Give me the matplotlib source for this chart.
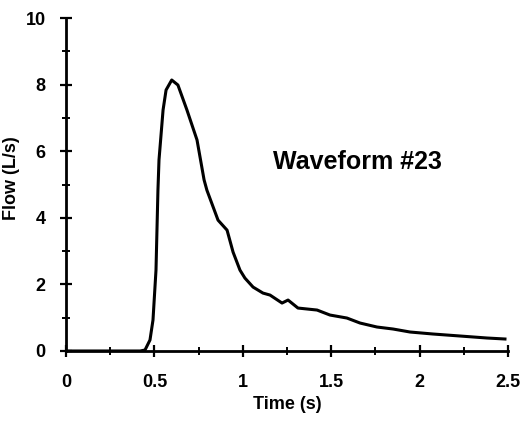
import matplotlib
matplotlib.use("Agg")
import matplotlib.pyplot as plt
from matplotlib.ticker import MultipleLocator

# flow waveform (time in s, flow in L/s)
time_s = [0.0, 0.20, 0.42, 0.447, 0.475, 0.492, 0.509, 0.520, 0.526, 0.549, 0.566,
          0.598, 0.633, 0.684, 0.741, 0.781, 0.797, 0.860, 0.911, 0.945, 0.984,
          1.012, 1.058, 1.114, 1.154, 1.222, 1.256, 1.312, 1.420, 1.493, 1.589,
          1.663, 1.759, 1.850, 1.946, 2.076, 2.229, 2.381, 2.483]
flow_ls = [0.0, 0.0, 0.0, 0.03, 0.33, 0.93, 2.43, 4.83, 5.74, 7.24, 7.84,
           8.14, 7.99, 7.24, 6.34, 5.14, 4.83, 3.93, 3.63, 2.97, 2.43,
           2.19, 1.92, 1.74, 1.68, 1.44, 1.53, 1.29, 1.23, 1.08, 0.99,
           0.84, 0.72, 0.66, 0.57, 0.51, 0.45, 0.39, 0.36]

x_ticks = [0, 0.5, 1, 1.5, 2, 2.5]
x_tick_labels = ["0", "0.5", "1", "1.5", "2", "2.5"]
y_ticks = [0, 2, 4, 6, 8, 10]

plt.rcParams["font.family"] = ["Liberation Sans", "DejaVu Sans"]
plt.rcParams["font.weight"] = "bold"

fig = plt.figure(figsize=(5.21, 4.21), dpi=100)
ax = fig.add_axes([0.1267, 0.1663, 0.975 - 0.1267, 0.957 - 0.1663])

ax.plot(time_s, flow_ls, color="black", linewidth=2.2, solid_joinstyle="round")

ax.set_xlim(0, 2.5)
ax.set_ylim(0, 10)
ax.set_xticks(x_ticks)
ax.set_xticklabels(x_tick_labels)
ax.set_yticks(y_ticks)
ax.xaxis.set_minor_locator(MultipleLocator(0.25))
ax.yaxis.set_minor_locator(MultipleLocator(1))

for side in ("top", "right"):
    ax.spines[side].set_visible(False)
for side in ("left", "bottom"):
    ax.spines[side].set_linewidth(2)
    ax.spines[side].set_clip_on(False)

ax.tick_params(which="major", direction="inout", length=9, width=1.6,
               labelsize=13, pad=12)
ax.tick_params(which="minor", direction="inout", length=6, width=1.4)
ax.tick_params(axis="y", pad=10)
for lbl in ax.get_xticklabels() + ax.get_yticklabels():
    lbl.set_fontweight("bold")

ax.set_xlabel("Time (s)", fontsize=13, fontweight="bold", labelpad=4)
ax.set_ylabel("Flow (L/s)", fontsize=13, fontweight="bold")
ax.yaxis.set_label_coords(-0.104, 0.52)

ax.text(1.17, 5.67, "Waveform #23", fontsize=18, fontweight="bold",
        ha="left", va="center")

fig.savefig("out.png", dpi=100)
